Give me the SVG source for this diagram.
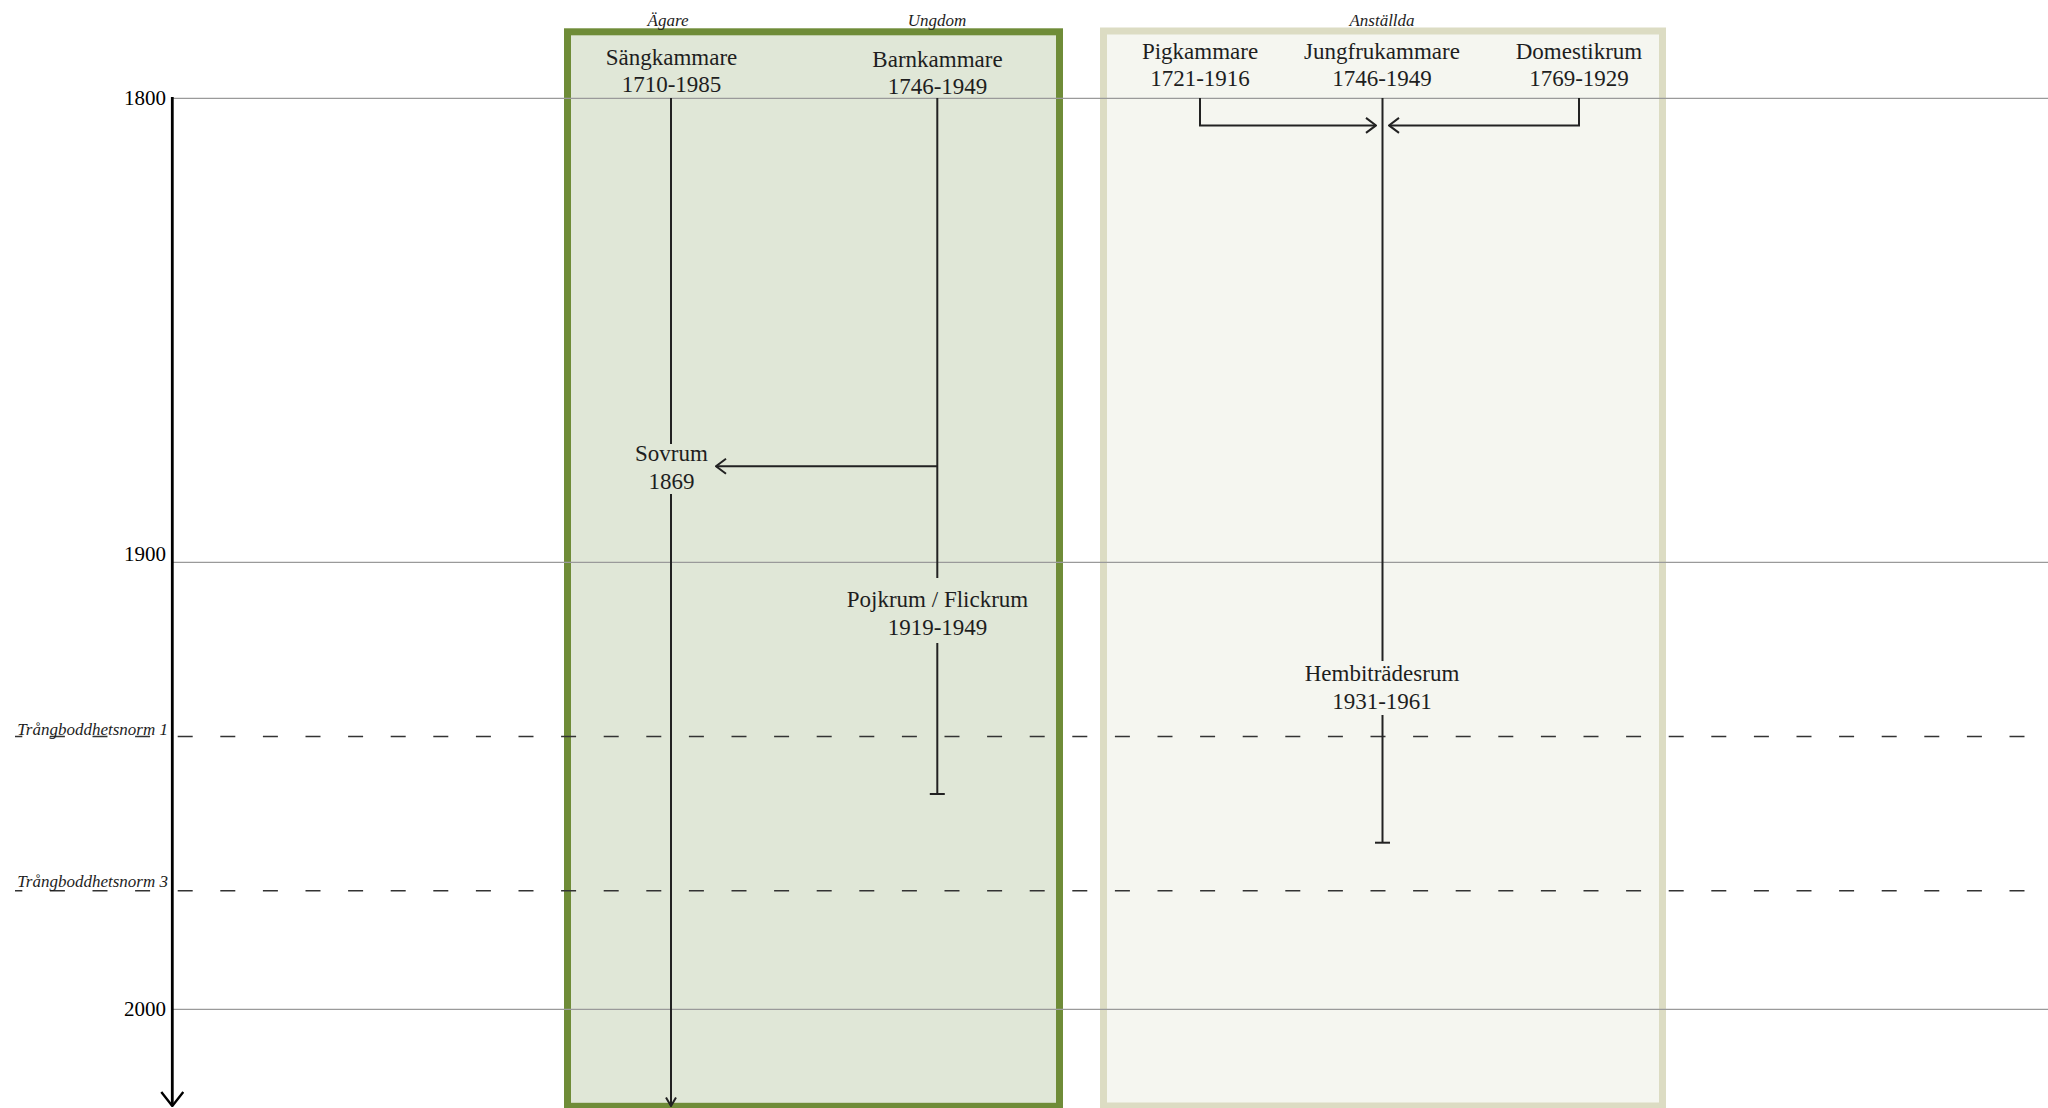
<svg xmlns="http://www.w3.org/2000/svg" width="2048" height="1108" viewBox="0 0 2048 1108">
<style>
.t{font-family:"Liberation Serif","Times New Roman",serif;font-size:23px;fill:#1e1e1e;text-anchor:middle}
.cat{font-family:"Liberation Serif","Times New Roman",serif;font-size:17px;font-style:italic;fill:#1e1e1e;text-anchor:middle}
.yr{font-family:"Liberation Serif","Times New Roman",serif;font-size:21px;fill:#000;text-anchor:end}
.norm{font-family:"Liberation Serif","Times New Roman",serif;font-size:17px;font-style:italic;fill:#1e1e1e;text-anchor:end}
.grid{stroke:#9a9a9a;stroke-width:1.3;fill:none}
.dash{stroke:#333;stroke-width:1.5;fill:none;stroke-dasharray:15 27.6}
.c{stroke:#222;stroke-width:2;fill:none}
</style>
<defs>
<marker id="arr" viewBox="0 0 12 18" refX="11" refY="9" markerWidth="12" markerHeight="18" orient="auto" markerUnits="userSpaceOnUse">
<path d="M1,1.5 L11,9 L1,16.5" fill="none" stroke="#222" stroke-width="2"/>
</marker>
<marker id="arrS" viewBox="0 0 10 12" refX="9.5" refY="6" markerWidth="10" markerHeight="12" orient="auto" markerUnits="userSpaceOnUse">
<path d="M1,1 L9.5,6 L1,11" fill="none" stroke="#222" stroke-width="2"/>
</marker>
<marker id="axarr" viewBox="0 0 16 24" refX="15" refY="12" markerWidth="16" markerHeight="24" orient="auto" markerUnits="userSpaceOnUse">
<path d="M1,1 L15,12 L1,23" fill="none" stroke="#000" stroke-width="2.4"/>
</marker>
</defs>
<rect width="2048" height="1108" fill="#fff"/>

<g id="group-agare-ungdom">
<rect x="567.5" y="31.8" width="492" height="1074.5" fill="#e0e7d7" stroke="#6f8c38" stroke-width="7"/>
<text class="cat" x="668" y="26">Ägare</text>
<text class="cat" x="937" y="26">Ungdom</text>
</g>
<g id="group-anstallda">
<rect x="1103.5" y="31" width="559" height="1075" fill="#f5f6f0" stroke="#dcdcc3" stroke-width="7"/>
<text class="cat" x="1382" y="26">Anställda</text>
</g>

<g id="grid">
<line class="grid" x1="172" y1="98.3" x2="2048" y2="98.3"/>
<line class="grid" x1="172" y1="562.3" x2="2048" y2="562.3"/>
<line class="grid" x1="172" y1="1009.3" x2="2048" y2="1009.3"/>
<line class="dash" x1="15" y1="736.5" x2="2048" y2="736.5" stroke-dashoffset="7.7"/>
<line class="dash" x1="15" y1="890.8" x2="2048" y2="890.8" stroke-dashoffset="7.7"/>
</g>

<g id="axis">
<line x1="172.3" y1="97" x2="172.3" y2="1106" stroke="#000" stroke-width="2.8" marker-end="url(#axarr)"/>
<text class="yr" x="166" y="104.5">1800</text>
<text class="yr" x="166" y="561">1900</text>
<text class="yr" x="166" y="1016">2000</text>
<text class="norm" x="168" y="735">Trångboddhetsnorm 1</text>
<text class="norm" x="168" y="886.5">Trångboddhetsnorm 3</text>
</g>

<g id="connectors">
<line class="c" x1="671" y1="98" x2="671" y2="444"/>
<line class="c" x1="671" y1="494" x2="671" y2="1106" marker-end="url(#arrS)"/>
<line class="c" x1="937.3" y1="98" x2="937.3" y2="578"/>
<line class="c" x1="937.3" y1="466.3" x2="716" y2="466.3" marker-end="url(#arr)"/>
<line class="c" x1="937.3" y1="643" x2="937.3" y2="794"/>
<line class="c" x1="929.8" y1="794" x2="944.8" y2="794"/>
<polyline class="c" points="1200,98 1200,125.4 1376,125.4" marker-end="url(#arr)"/>
<polyline class="c" points="1579,98 1579,125.4 1389,125.4" marker-end="url(#arr)"/>
<line class="c" x1="1382.5" y1="98" x2="1382.5" y2="661"/>
<line class="c" x1="1382.5" y1="715" x2="1382.5" y2="842.7"/>
<line class="c" x1="1375" y1="842.7" x2="1390" y2="842.7"/>
</g>

<g id="node-sangkammare">
<text class="t" x="671.5" y="65">Sängkammare</text>
<text class="t" x="671.5" y="92">1710-1985</text>
</g>
<g id="node-barnkammare">
<text class="t" x="937.5" y="66.5">Barnkammare</text>
<text class="t" x="937.5" y="93.5">1746-1949</text>
</g>
<g id="node-sovrum">
<text class="t" x="671.5" y="460.5">Sovrum</text>
<text class="t" x="671.5" y="488.5">1869</text>
</g>
<g id="node-pojkrum">
<text class="t" x="937.5" y="607">Pojkrum / Flickrum</text>
<text class="t" x="937.5" y="634.5">1919-1949</text>
</g>
<g id="node-pigkammare">
<text class="t" x="1200" y="58.5">Pigkammare</text>
<text class="t" x="1200" y="85.5">1721-1916</text>
</g>
<g id="node-jungfrukammare">
<text class="t" x="1382" y="58.5">Jungfrukammare</text>
<text class="t" x="1382" y="85.5">1746-1949</text>
</g>
<g id="node-domestikrum">
<text class="t" x="1579" y="58.5">Domestikrum</text>
<text class="t" x="1579" y="85.5">1769-1929</text>
</g>
<g id="node-hembitradesrum">
<text class="t" x="1382" y="681">Hembiträdesrum</text>
<text class="t" x="1382" y="708.5">1931-1961</text>
</g>
</svg>
